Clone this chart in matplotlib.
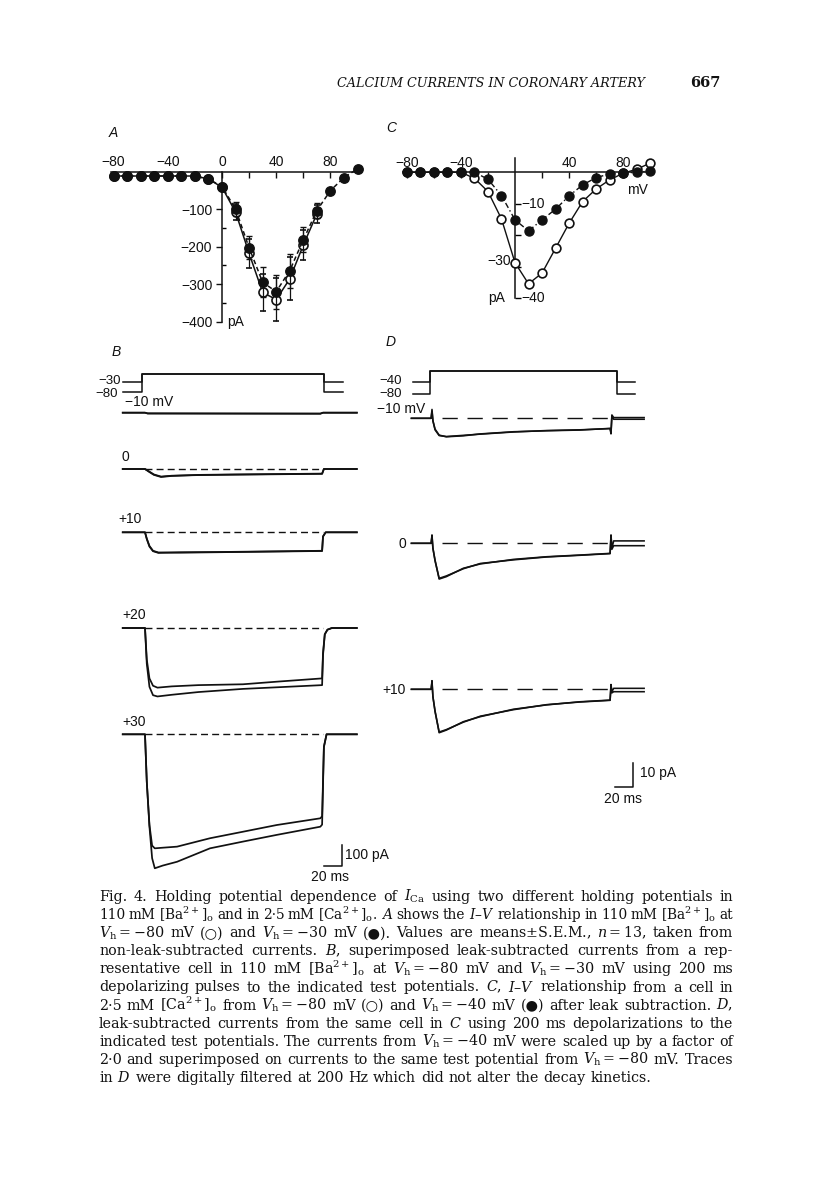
import matplotlib
matplotlib.use('Agg')
import matplotlib.pyplot as plt

plt.rcParams['font.family'] = ['Liberation Sans', 'DejaVu Sans']
plt.rcParams['mathtext.fontset'] = 'dejavuserif'
INK = '#111111'
SERIF = ['DejaVu Serif', 'DejaVu Sans']
W, H = 816, 1183

# ---------------- data ----------------
# A: I-V in 110 mM Ba, means +- SEM
A_V = [-80, -70, -60, -50, -40, -30, -20, -10, 0, 10, 20, 30, 40, 50, 60, 70, 80, 90, 100]
A_I_H30 = [-12, -12, -12, -12, -12, -12, -12, -20, -40, -100, -203, -295, -320, -264, -182, -104, -51, -16, 7]
A_E_H30 = [0, 0, 0, 0, 0, 0, 0, 4, 8, 18, 30, 40, 45, 45, 33, 20, 0, 0, 0]
A_V_H80 = [-80, -70, -60, -50, -40, -30, -20, -10, 0, 10, 20, 30, 40, 50, 60, 70]
A_I_H80 = [-12, -12, -12, -12, -12, -12, -12, -20, -42, -108, -218, -322, -341, -286, -196, -113]
A_E_H80 = [0, 0, 0, 0, 0, 0, 0, 4, 10, 22, 38, 50, 58, 57, 40, 24]

# C: I-V in 2.5 mM Ca, one cell
C_V = [-80, -70, -60, -50, -40, -30, -20, -10, 0, 10, 20, 30, 40, 50, 60, 70, 80, 90, 100]
C_I_H40 = [0, 0, 0, 0, 0, 0, -2.2, -7.4, -15.1, -18.6, -15.1, -11.7, -7.5, -4.0, -1.7, -0.5, -0.2, 0.0, 0.4]
C_I_H80 = [0, 0, 0, 0, 0, -1.9, -6.1, -14.8, -28.7, -35.4, -32.0, -24.1, -16.2, -9.3, -5.3, -2.4, -0.3, 1.0, 2.9]

# B: currents (ms, pA), two superimposed traces per test potential
B_LABELS = ['\u221210 mV', '0', '+10', '+20', '+30']
B_T = [
    [-25, 0, 3, 197, 200, 238],
    [-25, 0, 4, 10, 18, 30, 60, 100, 150, 199, 201, 238],
    [-25, 0, 2, 5, 9, 15, 40, 80, 120, 160, 199, 200, 203, 238],
    [-25, 0, 2, 5, 9, 14, 30, 60, 110, 150, 199, 200, 202, 205, 210, 238],
    [-25, 0, 2, 5, 8, 11, 20, 36, 73, 110, 148, 197, 199, 201, 204, 238],
]
B_I1 = [
    [0, 0, -4, -4, 0, 0],
    [0, 0, -12, -28, -38, -33, -28, -26, -24, -22, 0, 0],
    [0, 0, -30, -65, -88, -96, -97, -95, -93, -91, -89, -20, 0, 0],
    [0, 0, -150, -240, -275, -284, -278, -272, -268, -255, -240, -120, -30, -8, 0, 0],
    [0, 0, -226, -432, -530, -543, -540, -535, -495, -464, -432, -400, -390, -60, 0, 0],
]
B_I2 = [
    [0, 0, -3, -5, 0, 0],
    [0, 0, -10, -26, -36, -32, -29, -27, -25, -23, 0, 0],
    [0, 0, -32, -68, -90, -98, -95, -94, -92, -90, -88, -20, 0, 0],
    [0, 0, -170, -280, -320, -326, -318, -305, -290, -282, -272, -130, -30, -8, 0, 0],
    [0, 0, -226, -440, -590, -638, -625, -607, -543, -511, -479, -440, -430, -60, 0, 0],
]

# D: filtered currents (ms, pA)
D_LABELS = ['\u221210 mV', '0', '+10']
D_T = [-23, -1, 0, 1, 3.4, 8, 16, 35, 54, 91, 128, 165, 199, 200, 201, 203, 237]
D_I1 = [
    [0, 0, 3.7, -1, -4.5, -7.0, -7.7, -7.3, -6.5, -5.6, -5.2, -4.9, -4.2, -6.0, 1.4, 0.3, 0.3],
    [0, 0, 3.5, -2, -7.0, -14.9, -13.9, -10.4, -8.6, -6.7, -5.6, -4.9, -4.2, 3.5, -2.0, 1.0, 1.0],
    [0, 0, 3.6, -3, -9.0, -18.1, -17.0, -13.5, -11.4, -8.3, -6.5, -5.2, -4.5, 2.0, -1.0, 0.4, 0.4],
]
D_I2 = [
    [0, 0, 3.0, -1, -4.8, -7.2, -7.6, -7.1, -6.6, -5.7, -5.1, -4.8, -4.3, -6.5, 1.0, -0.4, -0.4],
    [0, 0, 3.0, -2, -7.3, -14.6, -13.6, -10.6, -8.4, -6.9, -5.7, -5.0, -4.3, 3.0, -2.5, -1.0, -1.0],
    [0, 0, 3.0, -3, -9.3, -17.8, -16.8, -13.7, -11.2, -8.5, -6.4, -5.3, -4.6, 1.5, -1.5, -1.0, -1.0],
]

# voltage protocols (ms, mV)
B_HOLD = [-80, -30]
D_HOLD = [-80, -40]
PROTO_T = [-21, 0, 0, 200, 200, 221]

SCALE_MS = 20
B_SCALE_PA = 100
D_SCALE_PA = 10

CAPTION = [
    r"Fig. 4. Holding potential dependence of $I_{\mathrm{Ca}}$ using two different holding potentials in",
    r"110 mM $[\mathrm{Ba}^{2+}]_{\mathrm{o}}$ and in 2·5 mM $[\mathrm{Ca}^{2+}]_{\mathrm{o}}$. $A$ shows the $I$–$V$ relationship in 110 mM $[\mathrm{Ba}^{2+}]_{\mathrm{o}}$ at",
    r"$V_{\mathrm{h}}=-80$ mV (○) and $V_{\mathrm{h}}=-30$ mV (●). Values are means$\pm$S.E.M., $n=13$, taken from",
    r"non-leak-subtracted currents. $B$, superimposed leak-subtracted currents from a rep-",
    r"resentative cell in 110 mM $[\mathrm{Ba}^{2+}]_{\mathrm{o}}$ at $V_{\mathrm{h}}=-80$ mV and $V_{\mathrm{h}}=-30$ mV using 200 ms",
    r"depolarizing pulses to the indicated test potentials. $C$, $I$–$V$ relationship from a cell in",
    r"2·5 mM $[\mathrm{Ca}^{2+}]_{\mathrm{o}}$ from $V_{\mathrm{h}}=-80$ mV (○) and $V_{\mathrm{h}}=-40$ mV (●) after leak subtraction. $D$,",
    r"leak-subtracted currents from the same cell in $C$ using 200 ms depolarizations to the",
    r"indicated test potentials. The currents from $V_{\mathrm{h}}=-40$ mV were scaled up by a factor of",
    r"2·0 and superimposed on currents to the same test potential from $V_{\mathrm{h}}=-80$ mV. Traces",
    r"in $D$ were digitally filtered at 200 Hz which did not alter the decay kinetics.",
]

# ---------------- helpers ----------------
fig = plt.figure(figsize=(W / 100, H / 100), dpi=100)
fig.patch.set_facecolor('white')


def ftext(x, y, s, **kw):
    kw.setdefault('color', INK)
    return fig.text(x / W, 1 - y / H, s, **kw)


def mapped_ax(box, x0, sx, y0, sy):
    """axes over pixel box (l, t, r, b); data x -> x0 + sx*x, data y -> y0 - sy*y (pixels)"""
    l, t, r, b = box
    ax = fig.add_axes([l / W, 1 - b / H, (r - l) / W, (b - t) / H])
    ax.set_xlim((l - x0) / sx, (r - x0) / sx)
    ax.set_ylim((y0 - b) / sy, (y0 - t) / sy)
    ax.set_facecolor('none')
    return ax


def iv_axes(ax, xb, yb):
    for s in ['bottom', 'right']:
        ax.spines[s].set_visible(False)
    ax.spines['top'].set_position(('data', 0))
    ax.spines['left'].set_position(('data', 0))
    ax.spines['top'].set_bounds(*xb)
    ax.spines['left'].set_bounds(*yb)
    for s in ['top', 'left']:
        ax.spines[s].set_linewidth(1.1)
        ax.spines[s].set_color(INK)
    ax.xaxis.set_ticks_position('top')
    ax.tick_params(axis='x', which='both', direction='in', length=4, width=1, pad=2,
                   labelsize=10, colors=INK)


# ---------------- header ----------------
ftext(491, 87, 'CALCIUM CURRENTS IN CORONARY ARTERY', family=SERIF, style='italic',
      fontsize=9.2, ha='center', va='baseline')
ftext(705, 87, '667', family=SERIF, fontsize=10.5, weight='bold', ha='center', va='baseline')

# panel letters
for lab, x, y in [('A', 113, 133), ('B', 116, 352), ('C', 391, 128), ('D', 391, 342)]:
    ftext(x, y, lab, style='italic', fontsize=10, ha='center', va='center')

# ---------------- A ----------------
axA = mapped_ax((95, 120, 375, 345), 222, 1.355, 171.5, 0.3755)
iv_axes(axA, (-82, 100), (-400, 0))
axA.set_xticks([-80, -40, 0, 40, 80])
axA.set_xticks([-60, -20, 20, 60], minor=True)
axA.set_xticklabels(['\u221280', '\u221240', '0', '40', '80'])
axA.set_yticks([-100, -200, -300, -400])
axA.set_yticklabels(['\u2212100', '\u2212200', '\u2212300', '\u2212400'])
axA.set_yticks([-50, -150, -250, -350], minor=True)
axA.tick_params(axis='y', which='major', direction='out', length=4, width=1, pad=3,
                labelsize=10, colors=INK)
axA.tick_params(axis='y', which='minor', direction='in', length=3, width=1)
axA.errorbar(A_V_H80, A_I_H80, yerr=A_E_H80, fmt='o-', color=INK, mfc='white', mec=INK,
             ms=6.5, mew=1.2, lw=1.1, elinewidth=0.9, capsize=2, clip_on=False, zorder=3)
axA.errorbar(A_V, A_I_H30, yerr=A_E_H30, fmt='o', color=INK, ms=6.8, elinewidth=0.9,
             capsize=2, clip_on=False, zorder=4)
axA.plot(A_V, A_I_H30, color=INK, lw=1.1, ls=(0, (3, 2)), clip_on=False, zorder=4)
axA.text(4, -400, 'pA', fontsize=10, va='center', ha='left', color=INK)

# ---------------- C ----------------
axC = mapped_ax((380, 120, 670, 345), 515, 1.352, 172.3, 3.15)
iv_axes(axC, (-83, 103), (-40, 4.5))
axC.set_xticks([-80, -40, 40, 80])
axC.set_xticks([-60, -20, 20, 60], minor=True)
axC.set_xticklabels(['\u221280', '\u221240', '40', '80'])
axC.set_yticks([-10, -20, -30, -40])
axC.set_yticklabels([])
axC.tick_params(axis='y', which='major', direction='in', length=4, width=1)
axC.plot(C_V, C_I_H80, 'o-', color=INK, mfc='white', mec=INK, ms=6.3, mew=1.2, lw=1.0,
         clip_on=False, zorder=3)
axC.plot(C_V, C_I_H40, 'o', color=INK, ms=6.5, clip_on=False, zorder=4)
axC.plot(C_V, C_I_H40, color=INK, lw=1.0, ls=(0, (4, 2, 1, 2)), clip_on=False, zorder=4)
axC.text(5, -10, '\u221210', fontsize=10, va='center', ha='left', color=INK)
axC.text(-3, -28.3, '\u221230', fontsize=10, va='center', ha='right', color=INK)
axC.text(5, -40, '\u221240', fontsize=10, va='center', ha='left', color=INK)
axC.text(-7, -40, 'pA', fontsize=10, va='center', ha='right', color=INK)
axC.text(83, -5.5, 'mV', fontsize=10, va='center', ha='left', color=INK)

# ---------------- B ----------------
axBp = mapped_ax((100, 365, 380, 400), 142, 0.911, 376.3, 0.2)
axBp.axis('off')
for hv in B_HOLD:
    axBp.plot(PROTO_T, [hv, hv, 10, 10, hv, hv], color=INK, lw=1.1)
ftext(121, 381, '\u221230', fontsize=9.5, ha='right', va='center')
ftext(118, 393.5, '\u221280', fontsize=9.5, ha='right', va='center')

B_BASE = [412.7, 469, 532.3, 628, 734.3]
B_LAB_XY = [(125, 402), (122, 457), (118, 519), (122, 615), (122, 722)]
for i in range(5):
    yb = B_BASE[i]
    ax = mapped_ax((100, yb - 25, 380, yb + 160), 145, 0.89, yb, 0.21)
    ax.axis('off')
    if i > 0:
        ax.plot([0, 200], [0, 0], color=INK, lw=1.0, ls=(0, (5, 3)))
    ax.plot(B_T[i], B_I2[i], color=INK, lw=1.25)
    ax.plot(B_T[i], B_I1[i], color=INK, lw=1.25)
    ftext(*B_LAB_XY[i], B_LABELS[i], fontsize=10, ha='left', va='center')
    if i == 4:
        sb_t, sb_i = 221, -627
        ax.plot([sb_t - SCALE_MS, sb_t, sb_t], [sb_i, sb_i, sb_i + B_SCALE_PA],
                color=INK, lw=1.1)
ftext(345, 855, '100 pA', fontsize=10, ha='left', va='center')
ftext(330, 877, '20 ms', fontsize=10, ha='center', va='center')

# ---------------- D ----------------
axDp = mapped_ax((380, 360, 670, 400), 430, 0.9335, 370.6, 0.2925)
axDp.axis('off')
for hv in D_HOLD:
    axDp.plot([-18, 0, 0, 200, 200, 220], [hv, hv, 0, 0, hv, hv], color=INK, lw=1.1)
ftext(402, 381.5, '\u221240', fontsize=9.5, ha='right', va='center')
ftext(402, 394.5, '\u221280', fontsize=9.5, ha='right', va='center')

D_BASE = [418.3, 543.3, 689.3]
for i in range(3):
    yb = D_BASE[i]
    ax = mapped_ax((380, yb - 25, 670, yb + 110), 432, 0.895, yb, 2.4)
    ax.axis('off')
    ax.plot([11, 199], [0, 0], color=INK, lw=1.0, ls=(0, (11, 7)))
    ax.plot(D_T, D_I2[i], color=INK, lw=1.15)
    ax.plot(D_T, D_I1[i], color=INK, lw=1.15)
    if i == 2:
        sb_t, sb_i = 224.6, -40.9
        ax.plot([sb_t - SCALE_MS, sb_t, sb_t], [sb_i, sb_i, sb_i + D_SCALE_PA],
                color=INK, lw=1.1)
ftext(377, 409, D_LABELS[0], fontsize=10, ha='left', va='center')
ftext(406, 544, D_LABELS[1], fontsize=10, ha='right', va='center')
ftext(406, 690, D_LABELS[2], fontsize=10, ha='right', va='center')
ftext(640, 773, '10 pA', fontsize=10, ha='left', va='center')
ftext(623, 799, '20 ms', fontsize=10, ha='center', va='center')

# ---------------- caption (justified) ----------------
renderer = fig.canvas.get_renderer()
CAP_L, CAP_R, CAP_Y0, CAP_DY, CAP_FS = 99, 733, 901, 18.1, 10.3
for k, line in enumerate(CAPTION):
    words = line.split(' ')
    y = CAP_Y0 + k * CAP_DY
    arts = [ftext(0, y, w, family=SERIF, fontsize=CAP_FS, ha='left', va='baseline')
            for w in words]
    fs = CAP_FS
    while True:
        widths = [a.get_window_extent(renderer).width for a in arts]
        if k == len(CAPTION) - 1:
            gap = fs * 100 / 72 * 0.33
            break
        gap = (CAP_R - CAP_L - sum(widths)) / (len(words) - 1)
        if gap >= 3.0:
            break
        fs -= 0.1
        for a in arts:
            a.set_fontsize(fs)
    x = CAP_L
    for a, w in zip(arts, widths):
        a.set_x(x / W)
        x += w + gap

fig.savefig('out.png', dpi=100, facecolor='white')
